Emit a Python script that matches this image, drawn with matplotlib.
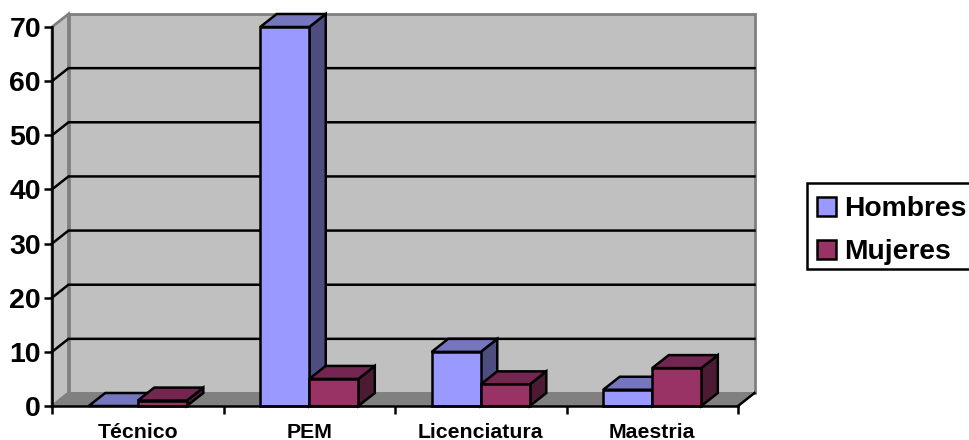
import matplotlib
matplotlib.use('Agg')
import matplotlib.pyplot as plt
from matplotlib.patches import Polygon, Patch, Rectangle

categorias = ['Técnico', 'PEM', 'Licenciatura', 'Maestria']
hombres = [0, 70, 10, 3]
mujeres = [1, 5, 4, 7]
y_ticks = [0, 10, 20, 30, 40, 50, 60, 70]

W, H = 970, 440
plt.rcParams['font.family'] = ['Liberation Sans', 'DejaVu Sans']
plt.rcParams['font.weight'] = 'bold'

fig = plt.figure(figsize=(W / 100, H / 100), dpi=100, facecolor='white')
ax = fig.add_axes([52 / W, (H - 406) / H, 686 / W, 379 / H])
ax.set_xlim(0, 4)
ax.set_ylim(0, 70)
ax.patch.set_visible(False)

# profundidad del efecto 3D, en unidades de los ejes
dx = 16.5 / 171.5
dy = 13 / 5.414
bar_w = 0.286
lw = 1.8


def poly(pts, fc, ec='black', z=3, w=lw):
    ax.add_patch(Polygon(pts, closed=True, facecolor=fc, edgecolor=ec, linewidth=w,
                         joinstyle='miter', clip_on=False, zorder=z))


def barra3d(x, v, front, top, side, z):
    poly([(x + bar_w, 0), (x + bar_w + dx, dy), (x + bar_w + dx, v + dy), (x + bar_w, v)], side, z=z)
    poly([(x, v), (x + dx, v + dy), (x + bar_w + dx, v + dy), (x + bar_w, v)], top, z=z)
    if v > 0:
        poly([(x, 0), (x + bar_w, 0), (x + bar_w, v), (x, v)], front, z=z)


# paredes y piso
poly([(0, 0), (dx, dy), (dx, 70 + dy), (0, 70)], '#C0C0C0', ec='#808080', z=1, w=2)
poly([(dx, dy), (4 + dx, dy), (4 + dx, 70 + dy), (dx, 70 + dy)], '#C0C0C0', ec='#808080', z=1, w=2)
poly([(0, 0), (4, 0), (4 + dx, dy), (dx, dy)], '#808080', ec='#808080', z=1, w=1)

# lineas de division en la pared lateral y la del fondo
for v in y_ticks[1:-1]:
    ax.plot([0, dx, 4 + dx], [v, v + dy, v + dy], color='black', lw=lw, clip_on=False, zorder=2,
            solid_joinstyle='miter')
ax.plot([4, 4 + dx], [0, dy], color='black', lw=lw, clip_on=False, zorder=2)

for i in range(len(categorias)):
    c = i + 0.5
    barra3d(c - bar_w, hombres[i], '#9999FF', '#7676BF', '#4D4D80', 3 + i)
    barra3d(c, mujeres[i], '#993366', '#732650', '#4D1A33', 3.5 + i)

for s in ['top', 'right']:
    ax.spines[s].set_visible(False)
for s in ['left', 'bottom']:
    ax.spines[s].set_linewidth(lw)
    ax.spines[s].set_zorder(10)

ax.set_yticks(y_ticks)
ax.set_yticklabels([str(v) for v in y_ticks], fontsize=20.5, fontweight='bold')
ax.tick_params(axis='y', length=6, width=lw, pad=2)
ax.set_xticks(range(5))
ax.set_xticklabels([])
ax.tick_params(axis='x', which='major', length=6, width=lw)
ax.set_xticks([i + 0.5 for i in range(4)], minor=True)
ax.set_xticklabels(categorias, minor=True, fontsize=15.3, fontweight='bold')
ax.tick_params(axis='x', which='minor', length=0, pad=12)

# el recuadro de la leyenda sigue mas alla del borde derecho
fig.add_artist(Rectangle((807 / W, (H - 269) / H), 175 / W, 86 / H, transform=fig.transFigure,
                         facecolor='white', edgecolor='black', linewidth=lw))
handles = [Patch(facecolor='#9999FF', edgecolor='black', linewidth=lw, label='Hombres'),
           Patch(facecolor='#993366', edgecolor='black', linewidth=lw, label='Mujeres')]
fig.legend(handles=handles, loc='upper left', bbox_to_anchor=(817 / W, (H - 196) / H),
           borderaxespad=0, borderpad=0, fontsize=20.3, frameon=False,
           handlelength=0.66, handleheight=0.66, handletextpad=0.3, labelspacing=0.6)

fig.savefig('out.png', dpi=100)
